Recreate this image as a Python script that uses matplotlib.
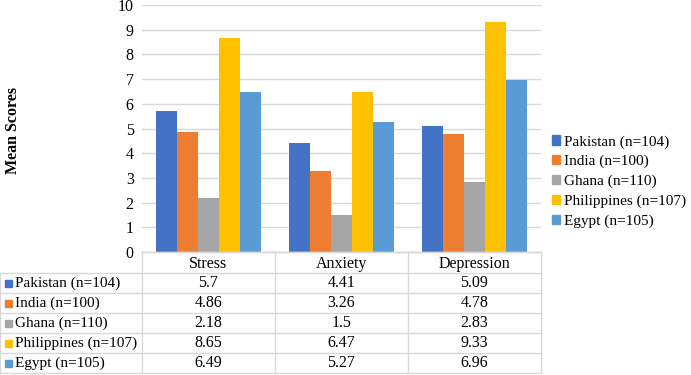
import matplotlib
matplotlib.use("Agg")
import matplotlib.pyplot as plt
import numpy as np
from matplotlib.patches import Rectangle
from matplotlib.lines import Line2D

categories = ["Stress", "Anxiety", "Depression"]
series_names = ["Pakistan (n=104)", "India (n=100)", "Ghana (n=110)",
                "Philippines (n=107)", "Egypt (n=105)"]
pakistan = [5.7, 4.41, 5.09]
india = [4.86, 3.26, 4.78]
ghana = [2.18, 1.5, 2.83]
philippines = [8.65, 6.47, 9.33]
egypt = [6.49, 5.27, 6.96]
series_values = [pakistan, india, ghana, philippines, egypt]
colors = ["#4472C4", "#ED7D31", "#A5A5A5", "#FFC000", "#5B9BD5"]
yticks = list(range(0, 11))

plt.rcParams['font.family'] = ['Liberation Serif', 'DejaVu Serif']

FS = 11
W, H = 691, 375
fig = plt.figure(figsize=(W / 100, H / 100), dpi=100)

x0, x1 = 142, 541
ytop, ybot = 5, 252
ax = fig.add_axes([x0 / W, 1 - ybot / H, (x1 - x0) / W, (ybot - ytop) / H])

n = len(series_names)
bw = 0.158
xs = np.arange(len(categories))
for i, (name, vals, c) in enumerate(zip(series_names, series_values, colors)):
    ax.bar(xs + (i - (n - 1) / 2) * bw, vals, width=bw, color=c, label=name, zorder=2)

ax.set_xlim(-0.5, len(categories) - 0.5)
ax.set_ylim(0, 10)
ax.set_yticks(yticks)
ax.set_yticklabels([str(t) for t in yticks], fontsize=FS + 0.5)
ax.tick_params(axis='y', length=0, pad=6)
ax.set_xticks([])
ax.grid(axis='y', color='#D9D9D9', linewidth=1, zorder=0)
for s in ['left', 'right', 'top']:
    ax.spines[s].set_visible(False)
ax.spines['bottom'].set_color('#D9D9D9')
ax.spines['bottom'].set_linewidth(1)

fig.text(13 / W, 1 - 130 / H, "Mean Scores", rotation=90, fontsize=FS + 0.5,
         fontweight='bold', ha='center', va='center')

# Legend
leg = fig.legend(handles=[Rectangle((0, 0), 1, 1, color=c) for c in colors],
                 labels=series_names, loc='upper left',
                 bbox_to_anchor=(549 / W, 1 - 132 / H), frameon=False,
                 fontsize=FS, handlelength=0.55, handleheight=0.55,
                 handletextpad=0.2, labelspacing=0.42, borderaxespad=0,
                 borderpad=0.2)

# Data table
grid_c = '#D9D9D9'
def fx(px):
    return px / W
def fy(py):
    return 1 - py / H

header_bot = 273
row_h = 20
col_edges = [x0, 275, 408, x1]
lines = []
lines.append(((x0, x1), (ybot, ybot)))
nrows = len(series_names)
bottom = header_bot + row_h * nrows
for xe in col_edges:
    lines.append(((xe, xe), (ybot, min(bottom, H - 1))))
lines.append(((0, 0), (header_bot, min(bottom, H - 1))))
for r in range(nrows + 1):
    yl = header_bot + r * row_h
    if yl < H:
        lines.append(((0, x1), (yl, yl)))
for (xa, ya) in lines:
    fig.add_artist(Line2D([fx(xa[0]), fx(xa[1])], [fy(ya[0]), fy(ya[1])],
                          color=grid_c, linewidth=1, transform=fig.transFigure))

for j, cat in enumerate(categories):
    cx = (col_edges[j] + col_edges[j + 1]) / 2
    fig.text(fx(cx), fy((ybot + header_bot) / 2 + 1), cat, fontsize=FS + 0.5,
             ha='center', va='center')
for r, (name, vals, c) in enumerate(zip(series_names, series_values, colors)):
    cy = header_bot + r * row_h + row_h / 2
    fig.add_artist(Rectangle((fx(5), fy(cy + 3.5)), 7 / W, 7 / H, color=c,
                             transform=fig.transFigure))
    fig.text(fx(15), fy(cy), name, fontsize=FS, ha='left', va='center')
    for j, v in enumerate(vals):
        cx = (col_edges[j] + col_edges[j + 1]) / 2
        fig.text(fx(cx), fy(cy), f"{v:g}", fontsize=FS + 0.5, ha='center', va='center')

fig.savefig("out.png", dpi=100)
